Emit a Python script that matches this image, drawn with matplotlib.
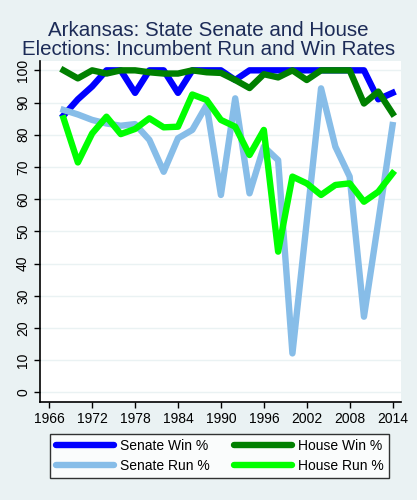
import matplotlib.pyplot as plt
import numpy as np

plt.rcParams["font.family"] = ["Liberation Sans", "DejaVu Sans"]

years = np.arange(1968, 2015, 2)

senate_win = [86, 91, 95, 100, 100, 93, 100, 100, 93, 100, 100, 100,
              97, 100, 100, 100, 100, 100, 100, 100, 100, 100, 91, 93]
house_win = [100, 97.5, 100, 99, 100, 100, 99.4, 99, 99, 100, 99.4, 99.2,
             97, 94.5, 98.8, 97.8, 100, 97, 100, 100, 100, 89.7, 93.4, 86.6]
senate_run = [87.7, 86.3, 84.6, 83.5, 82.8, 83.3, 78.4, 68.5, 78.9, 81.5, 89.2, 61.3,
              91.3, 61.8, 76.3, 72.1, 12.1, 53, 94.4, 76.3, 67, 23.5, 53, 83]
house_run = [85.1, 71.4, 80.4, 85.6, 80.2, 81.8, 85.1, 82.3, 82.5, 92.5, 90.8, 84.6,
             82.5, 73.7, 81.5, 43.7, 67, 64.9, 61.3, 64.4, 64.9, 59.2, 62.3, 68]

bg = "#eaf2f3"
fig = plt.figure(figsize=(4.17, 5.0), dpi=100, facecolor=bg)
ax = fig.add_axes([0.097, 0.1966, 0.865, 0.6814])
ax.set_facecolor("white")

lw = 4.6
l1, = ax.plot(years, senate_win, color="#0000ff", lw=lw, label="Senate Win %")
l2, = ax.plot(years, house_win, color="#008000", lw=lw, label="House Win %")
l3, = ax.plot(years, senate_run, color="#87bde8", lw=lw, label="Senate Run %")
l4, = ax.plot(years, house_run, color="#00ff00", lw=lw, label="House Run %")

ax.set_xlim(1964.77, 2015.2)
ax.set_ylim(-2.9, 102.9)
ax.set_xticks(np.arange(1966, 2015, 6))
ax.set_yticks(np.arange(0, 101, 10))
ax.tick_params(labelsize=10, length=4, width=1, color="black")
for lab in ax.get_yticklabels():
    lab.set_rotation(90)
    lab.set_va("center")
ax.yaxis.grid(True, color="#eaf2f3", lw=1)
ax.set_axisbelow(True)
for s in ["top", "right"]:
    ax.spines[s].set_visible(False)
ax.spines["left"].set_linewidth(1.2)
ax.spines["bottom"].set_linewidth(1.2)

fig.text(0.5, 0.92, "Arkansas: State Senate and House\nElections: Incumbent Run and Win Rates",
         ha="center", va="center", fontsize=14.8, color="#1c2b57", linespacing=0.95)

leg = fig.legend([l1, l3, l2, l4],
                 ["Senate Win %", "Senate Run %", "House Win %", "House Run %"],
                 ncol=2, loc="center", bbox_to_anchor=(0.527, 0.088),
                 fontsize=10, frameon=True, fancybox=False, edgecolor="black",
                 handlelength=4.2, columnspacing=1.7, handletextpad=0.45,
                 labelspacing=0.4, borderpad=0.4)
leg.get_frame().set_linewidth(1)
for h in leg.legend_handles:
    h.set_solid_capstyle("round")

fig.savefig("out.png", dpi=100, facecolor=bg)
